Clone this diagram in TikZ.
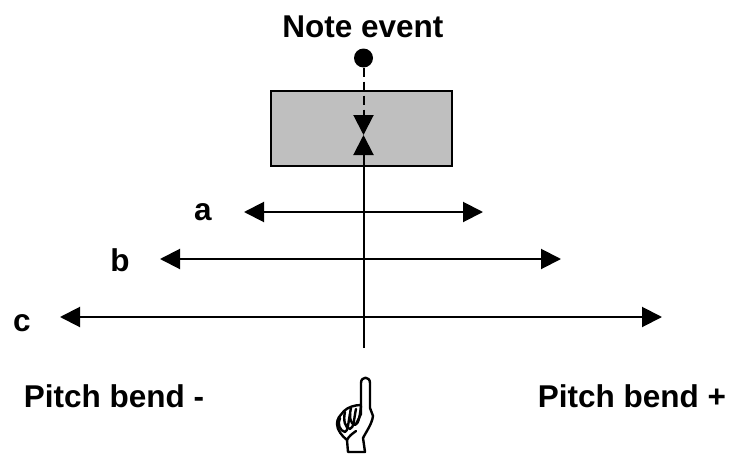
\documentclass[tikz,border=0pt]{standalone}
\usepackage{fontspec}
\setmainfont{Liberation Sans}
\usetikzlibrary{arrows.meta, positioning}

\tikzset{
  label text/.style={font=\fontsize{31.5}{33}\selectfont\bfseries, text centered, inner sep=0pt},
  pitch line/.style={line width=2pt, {Triangle[length=20pt,width=20pt]}-{Triangle[length=20pt,width=20pt]}},
  hand line/.style={line width=2.4pt, line join=round, line cap=round}
}

\begin{document}
\begin{tikzpicture}[x=1pt, y=-1pt]
    \useasboundingbox (0,0) rectangle (731,455);
    % nodes %
      \node[label text] (note) at (363,27) {Note event};
      \node[circle, fill=black, minimum size=19pt, inner sep=0pt] (dot) at (363.5,58) {};
      \node[draw, rectangle, line width=2pt, fill=black!25, minimum width=181pt, minimum height=75pt, inner sep=0pt] (box) at (361,128.5) {};
      \coordinate (meet) at (363.5,135);
      \coordinate (base) at (363.5,348);

      \coordinate (al) at (244,212);
      \coordinate (ar) at (483,212);
      \coordinate (bl) at (160,259);
      \coordinate (br) at (561,259);
      \coordinate (cl) at (60,317);
      \coordinate (cr) at (662,317);

      \node[label text] (a) at (203,212) {a};
      \node[label text] (b) at (120,260) {b};
      \node[label text] (c) at (22,323) {c};

      \node[label text] (minus) at (114,396) {Pitch bend -};
      \node[label text] (plus) at (632,396) {Pitch bend +};

      % edges %
      \draw[line width=2pt, dash pattern=on 9pt off 5pt, -{Triangle[length=20pt,width=20pt]}] (dot) -- (meet);
      \draw[line width=2pt, -{Triangle[length=20pt,width=20pt]}] (base) -- (meet);
      \draw[pitch line] (al) -- (ar);
      \draw[pitch line] (bl) -- (br);
      \draw[pitch line] (cl) -- (cr);

      % hand %
      \draw[hand line] (361,405) -- (361,383) .. controls (361,376) and (370,376) .. (370,383)
        -- (370,408) -- (373,416) .. controls (372,424) and (366,432) .. (363,438)
        -- (365,452) -- (348,452) -- (347,440) .. controls (342,436) and (337,430) .. (337,424)
        .. controls (337,418) and (340,416) .. (344,411) .. controls (348,407) and (355,405) .. (361,405);
      \draw[hand line] (361,405) -- (361,414) -- (356,424);
      \draw[hand line] (347,440) .. controls (349,436) and (352,434) .. (356,431);
      \draw[hand line] (340,418) .. controls (337,424) and (340,431) .. (345,432) .. controls (348,431) and (348,424) .. (350,414);
      \draw[hand line] (345,412) .. controls (343,420) and (345,428) .. (350,429) .. controls (354,428) and (354,418) .. (356,409);
      \draw[hand line] (351,408) .. controls (349,416) and (350,424) .. (355,425) .. controls (359,424) and (360,414) .. (361,406);
    \end{tikzpicture}
\end{document}
